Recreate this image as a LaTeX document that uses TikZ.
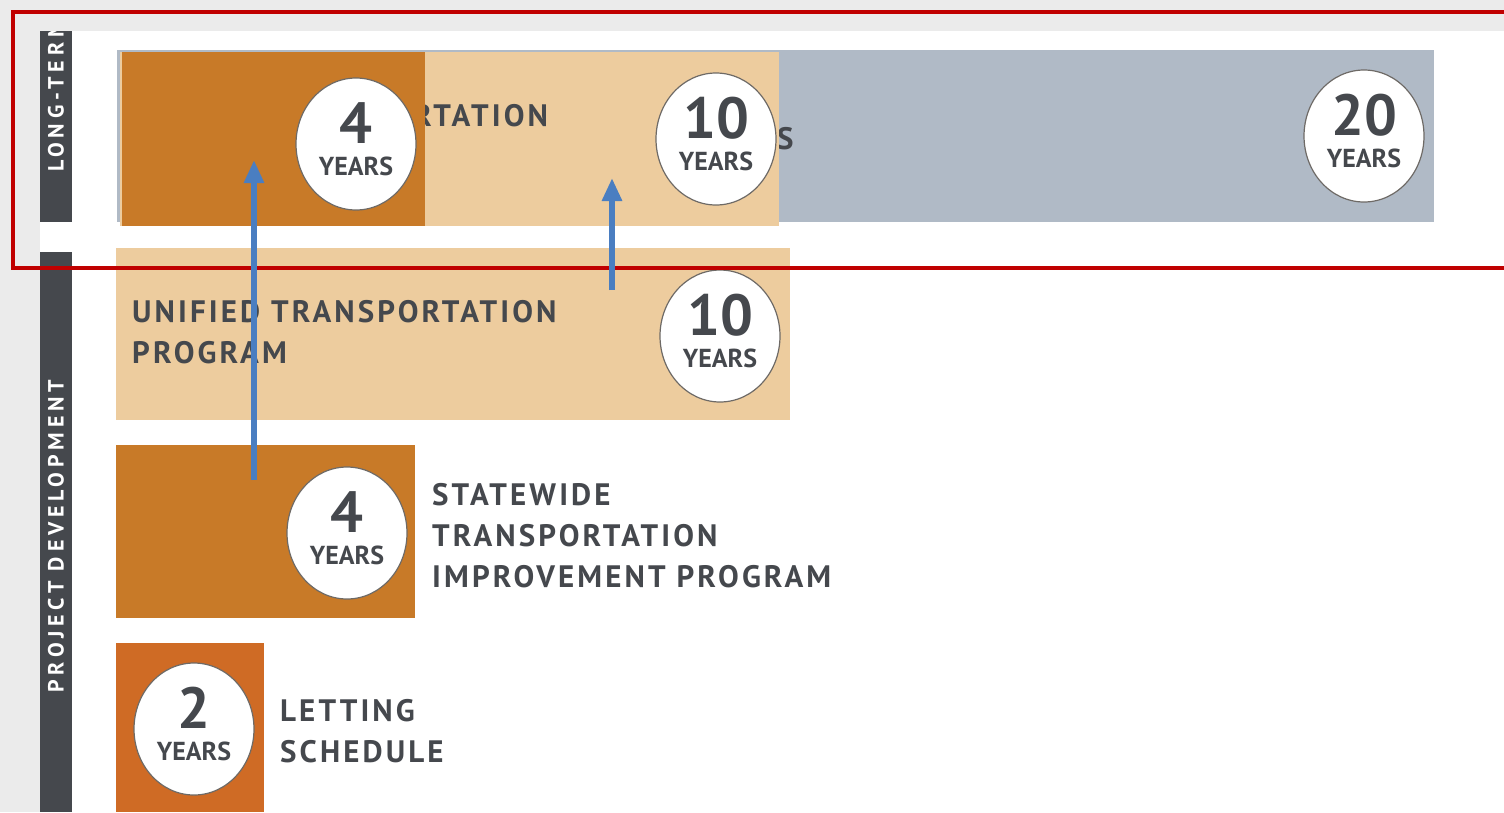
\documentclass[tikz,border=0pt]{standalone}
\usepackage{fontspec}
\setmainfont{PT Sans}
\newfontfamily\capsfont[LetterSpace=10]{PT Sans}
\newfontfamily\sidefont[LetterSpace=22]{PT Sans}
\usetikzlibrary{shapes.geometric}
\usetikzlibrary{arrows.meta}
\definecolor{panelgrey}{HTML}{EBEBEB}
\definecolor{sidegrey}{HTML}{45484D}
\definecolor{plangrey}{HTML}{B0BAC6}
\definecolor{tan}{HTML}{EDCC9E}
\definecolor{rust}{HTML}{C87A28}
\definecolor{brick}{HTML}{CF6B25}
\definecolor{ink}{HTML}{45484D}
\definecolor{ringgrey}{HTML}{6E6A66}
\definecolor{arrowblue}{HTML}{4A7EC1}
\definecolor{frame}{HTML}{C00000}

\begin{document}
\begin{tikzpicture}[x=1pt,y=-1pt,
    yrs/.style={ellipse,draw=ringgrey,line width=1.2pt,fill=white,minimum width=120pt,minimum height=132pt,inner sep=0pt},
    num/.style={anchor=base,inner sep=0pt,text=ink,font=\bfseries\fontsize{58}{58}\selectfont},
    yrstext/.style={anchor=base,inner sep=0pt,text=ink,font=\bfseries\fontsize{26}{26}\selectfont},
    caption/.style={anchor=north west,inner sep=0pt,align=left,text=ink,font=\capsfont\bfseries\fontsize{31}{41}\selectfont},
    side/.style={rotate=90,anchor=west,inner sep=0pt,text=white,font=\sidefont\bfseries\fontsize{22}{22}\selectfont},
    uparrow/.style={line width=6pt,draw=arrowblue,-{Triangle[width=19pt,length=23pt]}}]
	\useasboundingbox (0,0) rectangle (1504,812);
	\fill[panelgrey] (0,0) rectangle (1504,812);
	\fill[white] (40,31) rectangle (1504,812);
	\fill[sidegrey] (40,31) rectangle (72,222);
	\fill[sidegrey] (40,252) rectangle (72,812);
	\begin{scope}
		\clip (40,31) rectangle (72,222);
		\node[side] (longterm) at (56,172) {LONG-TERM};
	\end{scope}
	\node[side,anchor=center] (projdev) at (56,536) {PROJECT DEVELOPMENT};
	\fill[plangrey] (117,50) rectangle (1434,222);
	\node[caption] (lrtp) at (777,127) {S};
	\fill[tan] (120,52) rectangle (779,226);
	\node[caption] (utpback) at (413,104) {RTATION};
	\fill[rust] (122,52) rectangle (425,226);
	\fill[tan] (116,248) rectangle (790,420);
	\node[caption] (utp) at (132,300) {UNIFIED TRANSPORTATION\\PROGRAM};
	\fill[rust] (116,445) rectangle (415,618);
	\node[caption] (stip) at (432,483) {STATEWIDE\\TRANSPORTATION\\IMPROVEMENT PROGRAM};
	\fill[brick] (116,643) rectangle (264,812);
	\node[caption] (letting) at (280,699) {LETTING\\SCHEDULE};
	\node[yrs] (topfour) at (356,144) {};
	\node[num] at ([yshift=1pt]topfour.center) {4};
	\node[yrstext] at ([yshift=-31pt]topfour.center) {YEARS};
	\node[yrs] (topten) at (716,139) {};
	\node[num] at ([yshift=1pt]topten.center) {10};
	\node[yrstext] at ([yshift=-31pt]topten.center) {YEARS};
	\node[yrs] (toptwenty) at (1364,136) {};
	\node[num] at ([yshift=1pt]toptwenty.center) {20};
	\node[yrstext] at ([yshift=-31pt]toptwenty.center) {YEARS};
	\node[yrs] (utpten) at (720,336) {};
	\node[num] at ([yshift=1pt]utpten.center) {10};
	\node[yrstext] at ([yshift=-31pt]utpten.center) {YEARS};
	\node[yrs] (stipfour) at (347,533) {};
	\node[num] at ([yshift=1pt]stipfour.center) {4};
	\node[yrstext] at ([yshift=-31pt]stipfour.center) {YEARS};
	\node[yrs] (lettwo) at (194,729) {};
	\node[num] at ([yshift=1pt]lettwo.center) {2};
	\node[yrstext] at ([yshift=-31pt]lettwo.center) {YEARS};
	\draw[frame,line width=4pt] (13,12) rectangle (1512,268);
	\coordinate (stipup) at (254,480);
	\coordinate (stipend) at (254,160);
	\coordinate (utpup) at (612,290);
	\coordinate (utpend) at (612,178);
	\draw[uparrow] (stipup) -- (stipend);
	\draw[uparrow] (utpup) -- (utpend);
\end{tikzpicture}
\end{document}
